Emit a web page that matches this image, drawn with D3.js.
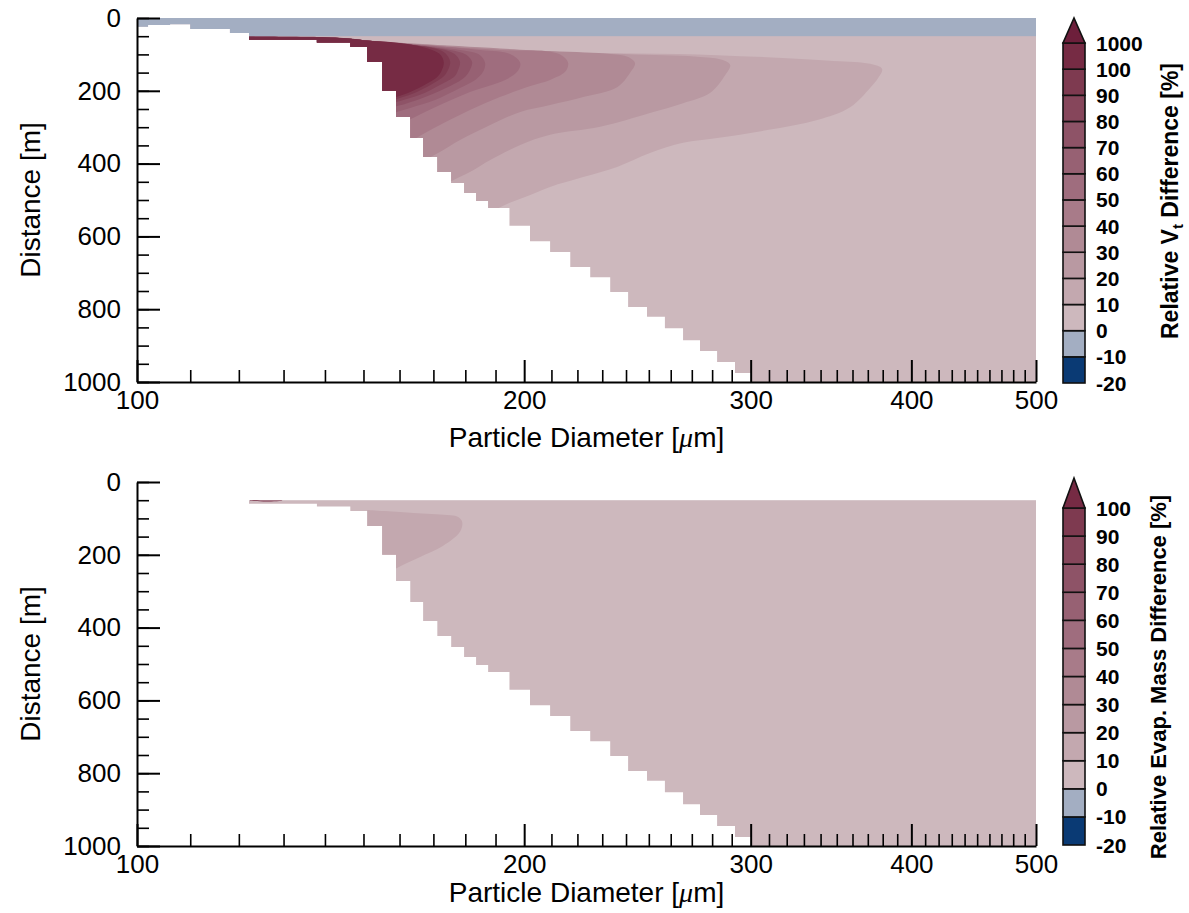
<!DOCTYPE html>
<html>
<head>
<meta charset="utf-8">
<script src="https://cdn.jsdelivr.net/npm/d3@7"></script>
<style>
  body { margin: 0; background: #fff; }
  svg text { font-family: "Liberation Sans", Arial, Helvetica, sans-serif; }
</style>
</head>
<body>
<svg id="chart" width="1189" height="913"></svg>
<script>
// colours of the contour bands, from the lowest band (-20..-10) up to the overflow arrow
const bandColors = ["#0a3a74", "#a3aec2", "#cdb8bd", "#c3a8af", "#b999a2", "#b08a95", "#a87b89",
                    "#9f6d7e", "#976173", "#8e5367", "#86465b", "#7e3a50", "#762b44", "#6d1f3b"]

const xTickVals = [100, 200, 300, 400, 500]
const yTickVals = [0, 200, 400, 600, 800, 1000]
const vtBarLabels = ["-20", "-10", "0", "10", "20", "30", "40", "50", "60", "70", "80", "90", "100", "1000"]
const emBarLabels = ["-20", "-10", "0", "10", "20", "30", "40", "50", "60", "70", "80", "90", "100"]

// left edge of each diameter bin [um] and the deepest distance [m] reached in that bin
const binDiam = [100, 102, 106.1, 110, 118.1, 122.2, 138, 146.5, 151, 155.1,
                 159, 163.1, 166.9, 171.2, 175.5, 179.6, 183.5, 187.5, 194.8, 202.1,
                 209.5, 217.2, 225.1, 233.3, 240.9, 249.2, 257.3, 265.8, 274, 282.5,
                 291.7, 300.7]
const binDepth = [24, 19, 17, 30, 41, 60, 67, 80, 121, 200,
                  272, 330, 382, 423, 453, 481, 503, 522, 571, 613,
                  643, 684, 712, 753, 794, 821, 852, 885, 915, 945,
                  975, 1000]

// contour outlines [diameter um, distance m] of the terminal velocity difference (top panel)
const vt10 = [[120,51],[138,53],[146.5,57],[151,62],[209.5,93],[282.5,102],[347.8,118],[371.5,126],[379.6,140],
  [376.9,165],[371.5,192],[358.5,245],[338,280],[309,308],[282.5,330],[265.8,343],[250.5,371],[236.2,409],
  [222.3,437],[209.5,464],[202.2,486],[194.7,508],[188.2,533],[181.5,560],[151,600],[120,600]]
const vt20 = [[120,51],[138,53],[146.5,57],[151,62],[209.5,93],[274,107],[285,115],[289.2,129],
  [286.6,157],[278.9,206],[265.8,234],[250.5,261],[229.1,299],[209.5,321],[198.6,349],[188.2,390],
  [181.5,423],[175.2,450],[169,486],[151,520],[120,520]]
const vt30 = [[120,51],[138,53],[146.5,57],[151,62],[209.5,91],[233.3,99],[240.9,107],[243.9,124],
  [241.7,151],[236.2,190],[222.3,217],[209.5,239],[198.6,258],[188.2,294],[178.3,335],[172,368],
  [167.5,390],[161.6,423],[151,440],[120,440]]
const vt40 = [[120,51],[138,53],[146.5,57],[151,62],[191.5,88],[209.5,93],[214.1,104],[216.4,124],
  [215.2,148],[209.5,170],[202.2,187],[191.5,217],[181.5,253],[172,294],[165.4,327],[160.2,363],
  [151,380],[120,380]]
const vt50 = [[120,51],[138,53],[146.5,57],[151,62],[184.8,88],[195,99],[198.6,124],
  [197.5,148],[193.3,170],[181.5,203],[172,239],[164.5,272],[158.7,300],[151,340],[120,340]]
const vt60 = [[120,51],[138,53],[146.5,57],[151,62],[178.3,88],[184.8,102],[186.5,124],
  [185.8,148],[183.2,170],[178.3,192],[170.5,225],[163.1,247],[157.3,266],[151,320],[120,320]]
const vt70 = [[120,51],[138,53],[146.5,57],[151,62],[175.2,88],[180.5,102],[182.2,121],
  [181.5,143],[179.9,162],[175.2,187],[167.5,217],[161.6,236],[155.9,253],[151,310],[120,310]]
const vt80 = [[120,51],[138,53],[146.5,57],[151,62],[173.6,88],[177,102],[178.3,121],
  [177.7,143],[176.7,159],[172,184],[166,211],[160.2,228],[155.9,242],[151,300],[120,300]]
const vt90 = [[120,51],[138,53],[146.5,57],[151,62],[166,77],[172,88],[174.2,102],[175.2,121],
  [174.5,143],[173.3,159],[169.6,181],[163.6,209],[159,223],[155.9,234],[151,290],[120,290]]
const vt100 = [[120,51],[138,52],[146.5,56],[151,62],[157.3,66],[165.1,76],[169.6,88],[172.3,102],[173.2,122],
  [172.6,143],[171.4,160],[168.1,180],[163.1,203],[159,217],[155.9,228],[151,280],[120,280]]

// contour outlines of the evaporated mass difference (bottom panel)
const em10 = [[151,77],[164,85],[174.2,91],[177.7,96],[179,110],
  [178.3,137],[172.9,176],[166,206],[159.3,236],[155.9,255],[151,300]]
const em100 = [[122.4,50],[126,51],[129.9,51.5],[126,53.5],[122.4,51.5]]

const vtContours = [[10, vt10], [20, vt20], [30, vt30], [40, vt40], [50, vt50],
                    [60, vt60], [70, vt70], [80, vt80], [90, vt90], [100, vt100]]
const emContours = [[10, em10], [100, em100]]

const svg = d3.select("#chart")
const left = 137, right = 1036, plotH = 364
const x = d3.scaleLog().domain([100, 500]).range([left, right])

function levelColor(lv) { return bandColors[2 + lv / 10] }

function drawPanel(top, contours, withBand, fieldTop, titleGap) {
    const y = d3.scaleLinear().domain([0, 1000]).range([top, top + plotH])
    const g = svg.append("g")

    // region where particles still exist (staircase on the lower left)
    const area = [[100, 0], [500, 0]]
    for (let i = binDiam.length - 1; i >= 0; i--) {
        const r = i + 1 < binDiam.length ? binDiam[i + 1] : 500
        area.push([r, binDepth[i]], [binDiam[i], binDepth[i]])
    }
    const poly = d3.line().x(d => x(d[0])).y(d => y(d[1]))
    const clipId = "clip" + top
    g.append("clipPath").attr("id", clipId)
        .append("path").attr("d", poly(area) + "Z")

    const field = g.append("g").attr("clip-path", "url(#" + clipId + ")")
    field.append("rect")
        .attr("x", left).attr("width", right - left)
        .attr("y", y(fieldTop)).attr("height", y(1000) - y(fieldTop))
        .attr("fill", bandColors[2])

    const smooth = d3.line().x(d => x(d[0])).y(d => y(d[1])).curve(d3.curveCatmullRom.alpha(0.5))
    contours.forEach(c => {
        field.append("path")
            .attr("d", smooth(c[1]) + "Z")
            .attr("fill", levelColor(c[0]))
    })

    if (withBand) {
        field.append("rect")
            .attr("x", left).attr("width", right - left)
            .attr("y", y(0)).attr("height", y(50) - y(0))
            .attr("fill", bandColors[1])
    }

    // axes, ticks pointing inwards
    const yAxisG = g.append("g").attr("transform", "translate(" + left + ",0)")
    yAxisG.append("g")
        .call(d3.axisLeft(y).tickValues(d3.range(0, 1001, 50)).tickSize(-12).tickFormat(""))
        .call(a => a.select(".domain").remove())
        .selectAll("line").attr("stroke-width", 1.6)
    yAxisG.append("g")
        .call(d3.axisLeft(y).tickValues(yTickVals).tickSize(-23).tickSizeOuter(0).tickPadding(16).tickFormat(d3.format("d")))
        .call(a => a.select(".domain").attr("stroke-width", 2))
        .call(a => a.selectAll("line").attr("stroke-width", 2))
        .call(a => a.selectAll("text").attr("font-size", 26).attr("fill", "#000"))

    const minorX = d3.range(110, 500, 10).filter(v => v % 100 !== 0)
    const xAxisG = g.append("g").attr("transform", "translate(0," + (top + plotH) + ")")
    xAxisG.append("g")
        .call(d3.axisBottom(x).tickValues(minorX).tickSize(-12).tickFormat(""))
        .call(a => a.select(".domain").remove())
        .selectAll("line").attr("stroke-width", 1.6)
    xAxisG.append("g")
        .call(d3.axisBottom(x).tickValues(xTickVals).tickSize(-22).tickSizeOuter(0).tickPadding(9).tickFormat(d3.format("d")))
        .call(a => a.select(".domain").attr("stroke-width", 2))
        .call(a => a.selectAll("line").attr("stroke-width", 2))
        .call(a => a.selectAll("text").attr("font-size", 26).attr("fill", "#000"))

    // axis titles
    const xt = g.append("text")
        .attr("x", (left + right) / 2).attr("y", top + plotH + titleGap)
        .attr("text-anchor", "middle").attr("font-size", 28)
    xt.append("tspan").text("Particle Diameter [")
    xt.append("tspan").text("\u03bc").attr("font-style", "italic").attr("font-family", "'Liberation Serif', serif")
    xt.append("tspan").text("m]")

    g.append("text")
        .attr("transform", "translate(40," + (top + plotH / 2) + ") rotate(-90)")
        .attr("text-anchor", "middle").attr("font-size", 28)
        .text("Distance [m]")
}

function drawColorbar(labels, tipY, topY, botY, titleX, titleY, titleSize, titleParts) {
    const n = labels.length - 1
    const cy = d3.scaleLinear().domain([0, n]).range([botY, topY])
    const x0 = 1063, x1 = 1085
    const g = svg.append("g")

    g.selectAll("rect.seg")
        .data(d3.range(n))
        .enter()
        .append("rect")
        .attr("class", "seg")
        .attr("x", x0).attr("width", x1 - x0)
        .attr("y", i => cy(i + 1)).attr("height", i => cy(i) - cy(i + 1))
        .attr("fill", i => bandColors[i])
        .attr("stroke", "#111").attr("stroke-width", 1.6)

    g.append("path")
        .attr("d", "M" + x0 + "," + topY + "L" + x1 + "," + topY + "L" + ((x0 + x1) / 2) + "," + tipY + "Z")
        .attr("fill", bandColors[n]).attr("stroke", "#111").attr("stroke-width", 1.6)

    g.selectAll("text.lab")
        .data(labels)
        .enter()
        .append("text")
        .attr("class", "lab")
        .attr("x", 1096).attr("y", (d, i) => cy(i)).attr("dy", "0.36em")
        .attr("font-size", 21).attr("font-weight", "bold")
        .text(d => d)

    const t = g.append("text")
        .attr("transform", "translate(" + titleX + "," + titleY + ") rotate(-90)")
        .attr("text-anchor", "middle").attr("font-size", titleSize).attr("font-weight", "bold")
    titleParts.forEach(p => {
        const s = t.append("tspan").text(p[0])
        if (p[1]) s.attr("dy", p[1])
        if (p[2]) s.attr("font-size", p[2])
    })
}

drawPanel(18, vtContours, true, 0, 65)
drawPanel(482, emContours, false, 50, 56)

drawColorbar(vtBarLabels, 18, 43, 383, 1178, 201, 23, [["Relative V"], ["t", 5, 15], [" Difference [%]", -5]])
drawColorbar(emBarLabels, 478, 508, 845, 1166, 677, 22, [["Relative Evap. Mass Difference [%]"]])
</script>
</body>
</html>
